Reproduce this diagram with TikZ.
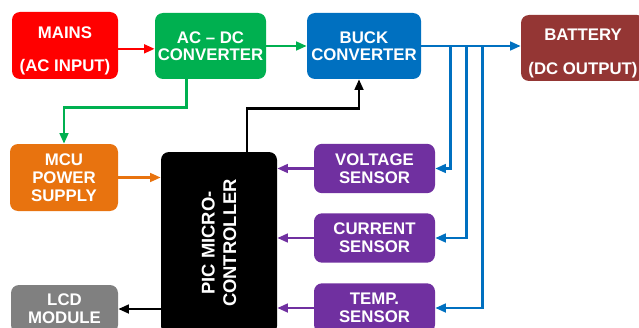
\documentclass[tikz,border=0pt]{standalone}
\usepackage{fontspec}
\setmainfont{Liberation Sans}
\usetikzlibrary{arrows.meta,positioning}
\definecolor{mainsred}{HTML}{FF0000}
\definecolor{acgreen}{HTML}{00B050}
\definecolor{buckblue}{HTML}{0070C0}
\definecolor{battbrown}{HTML}{943634}
\definecolor{mcuorange}{HTML}{E8730F}
\definecolor{sensepurple}{HTML}{7030A0}
\definecolor{lcdgray}{HTML}{808080}

\begin{document}
\begin{tikzpicture}[
  x=0.75pt, y=-0.75pt,
  >={Triangle[length=8pt,width=6.5pt]},
  font=\fontsize{12.6}{13.5}\selectfont\bfseries,
  box/.style={rectangle, rounded corners=6pt, inner sep=0pt, align=center, text=white},
  boxtext/.style={align=center, text=white, yshift=-4pt},
  sensor/.style={box, fill=sensepurple, minimum width=90.75pt, minimum height=37pt},
  arr/.style={->, line width=1.9pt}
]
\clip (0,0) rectangle (639,328);

\node[box, fill=mainsred, minimum width=79.5pt, minimum height=50.25pt,
  label={[boxtext]center:{MAINS\\[11.5pt](AC INPUT)}}] (mains) at (65,45.5) {};
\node[box, fill=acgreen, minimum width=83.25pt, minimum height=49.5pt] (acdc) at (210.5,46) {AC -- DC\\[-0.8pt]CONVERTER};
\node[box, fill=buckblue, minimum width=85.5pt, minimum height=49.5pt] (buck) at (364,46) {BUCK\\[-0.8pt]CONVERTER};
\node[box, fill=battbrown, minimum width=93pt, minimum height=49.5pt,
  label={[boxtext]center:{BATTERY\\[11.5pt](DC OUTPUT)}}] (batt) at (583,48) {};

\node[box, fill=mcuorange, minimum width=81pt, minimum height=50.25pt] (mcu) at (64,177.5) {MCU\\POWER\\SUPPLY};
\node[box, fill=lcdgray, minimum width=80.25pt, minimum height=36pt] (lcd) at (64.5,309) {LCD\\MODULE};
\node[box, fill=black, minimum width=87pt, minimum height=136.5pt] (pic) at (219,243) {};
\node[rotate=90, align=center, text=white, font=\fontsize{13.8}{16}\selectfont\bfseries] (piclabel) at (pic.center) {PIC MICRO-\\CONTROLLER};

\node[sensor] (volt) at (374.5,168.5) {VOLTAGE\\SENSOR};
\node[sensor] (curr) at (374.5,238) {CURRENT\\SENSOR};
\node[sensor] (temp) at (374.5,308) {TEMP.\\SENSOR};

% power path
\draw[arr, mainsred] ([yshift=-2.5pt]mains.east) -- ([yshift=-2.5pt]mains.east -| acdc.west);
\draw[arr, acgreen] (acdc.east) -- (buck.west);
\draw[arr, buckblue] (buck.east) -- (buck.east -| batt.west);
\draw[arr, acgreen] ([xshift=-18pt]acdc.south) -- ++(0,28) -| (mcu.north);

% sensing taps off the output bus
\draw[arr, buckblue] ([xshift=21.75pt]buck.east) |- (volt.east);
\draw[arr, buckblue] ([xshift=33.75pt]buck.east) |- (curr.east);
\draw[arr, buckblue] ([xshift=45.75pt]buck.east) |- (temp.east);

% controller
\draw[arr, mcuorange] (mcu.east) -- (mcu.east -| pic.west);
\foreach \s in {volt,curr,temp}
  \draw[arr, sensepurple] (\s.west) -- (\s.west -| pic.east);
\draw[arr, black] (pic.west |- lcd.east) -- (lcd.east);
\draw[arr, black] ([xshift=21pt]pic.north) -- ++(0,-43) -| ([xshift=-3.75pt]buck.south);
\end{tikzpicture}
\end{document}
